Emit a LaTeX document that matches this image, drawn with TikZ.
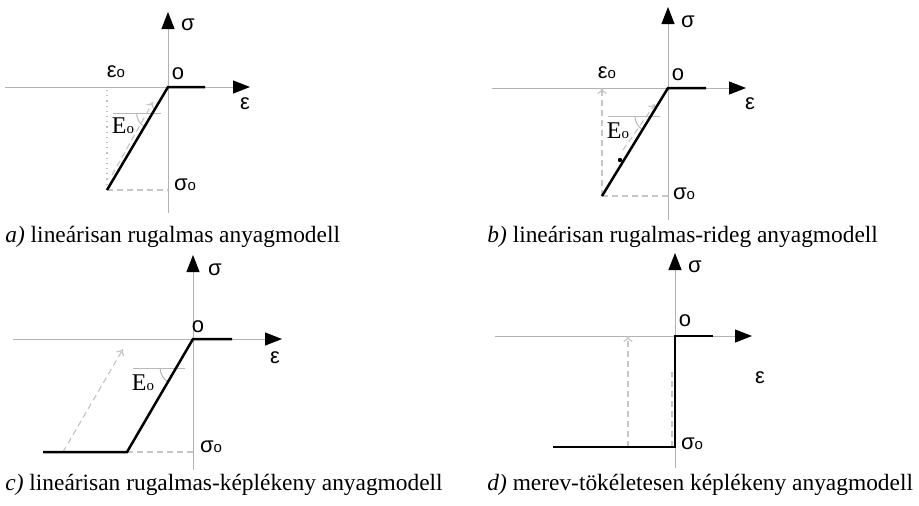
\documentclass[tikz,border=0pt]{standalone}
\usepackage{fontspec}
\setmainfont{Liberation Serif}
\newfontfamily\greekfont{Liberation Sans}
\usetikzlibrary{arrows.meta, positioning}
\newcommand{\idxo}{{\fontsize{7.5}{8}\selectfont o}}

\begin{document}
\begin{tikzpicture}[x=0.5pt, y=-0.5pt,
  axis/.style={draw=gray!60, line width=0.5pt, -{Triangle[length=8.5pt, width=6.5pt, color=black]}},
  curve/.style={line width=1.25pt, line join=miter},
  helper/.style={draw=gray!45, line width=0.6pt, dash pattern=on 3pt off 2pt},
  helperarrow/.style={helper, -{To[length=3pt, width=4.5pt]}},
  tangent/.style={draw=gray!55, line width=0.5pt},
  lab/.style={font=\greekfont\fontsize{11}{13}\selectfont, inner sep=0pt},
  elab/.style={font=\fontsize{12}{14}\selectfont, inner sep=0pt},
  caption/.style={font=\fontsize{11.7}{14}\selectfont, anchor=base west, inner sep=0pt}]
  \useasboundingbox (0,0) rectangle (919,505);

  % a) linear elastic
  \coordinate (aO) at (168,87);
  \coordinate (aW) at (5,87);
  \coordinate (aE) at (250,87);
  \coordinate (aS) at (168,213);
  \coordinate (aN) at (168,12);
  \coordinate (aY) at (205,87);
  \coordinate (aB) at (107,190);
  \coordinate (aBs) at (168,190);
  \coordinate (aBe) at (107,90);
  \coordinate (aT1) at (113,113);
  \coordinate (aT2) at (161,113);
  \coordinate (aK) at (152.6,113);
  \coordinate (aU1) at (112,175);
  \coordinate (aU2) at (153,102);
  \draw[axis] (aW) -- (aE);
  \draw[axis] (aS) -- (aN);
  \draw[helper] (aB) -- (aBs);
  \draw[gray!50, line width=0.6pt, dotted] (aB) -- (aBe);
  \draw[tangent] (aT1) -- (aT2);
  \draw[tangent] (aK) ++(-16,0) arc[start angle=180, end angle=120.6, radius=16];
  \draw[helperarrow] (aU1) -- (aU2);
  \draw[curve] (aY) -- (aO) -- (aB);
  \node[lab] (aSig) at (188,25) {σ};
  \node[lab] (aEps) at (245,104) {ε};
  \node[lab] (aZero) at (178,74) {o};
  \node[lab] (aEps0) at (116,72) {ε\idxo};
  \node[elab] (aE0) at (123,126) {E\idxo};
  \node[lab] (aSig0) at (185,185) {σ\idxo};
  \node[caption] (aCap) at (5,242) {\textit{a)} lineárisan rugalmas anyagmodell};

  % b) linear elastic - brittle
  \coordinate (bO) at (668,88);
  \coordinate (bW) at (492,88);
  \coordinate (bE) at (746,88);
  \coordinate (bS) at (668,220);
  \coordinate (bN) at (668,7);
  \coordinate (bY) at (706,88);
  \coordinate (bB) at (602,196);
  \coordinate (bBs) at (668,196);
  \coordinate (bBe) at (602,88);
  \coordinate (bT1) at (608,116);
  \coordinate (bT2) at (660,116);
  \coordinate (bK) at (650.9,116);
  \coordinate (bU1) at (623,150);
  \coordinate (bU2) at (655,104);
  \draw[axis] (bW) -- (bE);
  \draw[axis] (bS) -- (bN);
  \draw[helper] (bB) -- (bBs);
  \draw[helperarrow] (bB) -- (bBe);
  \draw[tangent] (bT1) -- (bT2);
  \draw[tangent] (bK) ++(-16,0) arc[start angle=180, end angle=121.4, radius=16];
  \draw[helperarrow] (bU1) -- (bU2);
  \draw[curve] (bY) -- (bO) -- (bB);
  \node[circle, fill, inner sep=0pt, minimum size=2.2pt] (bDot) at (620,160) {};
  \node[lab] (bSig) at (688,22) {σ};
  \node[lab] (bEps) at (750,104) {ε};
  \node[lab] (bZero) at (678,75) {o};
  \node[lab] (bEps0) at (607,73) {ε\idxo};
  \node[elab] (bE0) at (618,131) {E\idxo};
  \node[lab] (bSig0) at (684,194) {σ\idxo};
  \node[caption] (bCap) at (487,242) {\textit{b)} lineárisan rugalmas-rideg anyagmodell};

  % c) linear elastic - plastic
  \coordinate (cO) at (193,339);
  \coordinate (cW) at (13,339);
  \coordinate (cE) at (282,339);
  \coordinate (cS) at (193,470);
  \coordinate (cN) at (193,255);
  \coordinate (cY) at (232,339);
  \coordinate (cB) at (127,452);
  \coordinate (cL) at (43,452);
  \coordinate (cBs) at (193,452);
  \coordinate (cT1) at (133,368);
  \coordinate (cT2) at (185,368);
  \coordinate (cK) at (176.1,368);
  \coordinate (cU1) at (63,452);
  \coordinate (cU2) at (123,349);
  \draw[axis] (cW) -- (cE);
  \draw[axis] (cS) -- (cN);
  \draw[helper] (cB) -- (cBs);
  \draw[tangent] (cT1) -- (cT2);
  \draw[tangent] (cK) ++(-16,0) arc[start angle=180, end angle=120.3, radius=16];
  \draw[helperarrow] (cU1) -- (cU2);
  \draw[curve] (cY) -- (cO) -- (cB) -- (cL);
  \node[lab] (cSig) at (215,270) {σ};
  \node[lab] (cEps) at (275,358) {ε};
  \node[lab] (cZero) at (198,327) {o};
  \node[elab] (cE0) at (143,383) {E\idxo};
  \node[lab] (cSig0) at (211,447) {σ\idxo};
  \node[caption] (cCap) at (5,490) {\textit{c)} lineárisan rugalmas-képlékeny anyagmodell};

  % d) rigid - perfectly plastic
  \coordinate (dO) at (675,336);
  \coordinate (dW) at (495,336);
  \coordinate (dE) at (752,336);
  \coordinate (dS) at (675,468);
  \coordinate (dN) at (675,253);
  \coordinate (dY) at (713,336);
  \coordinate (dB) at (675,447);
  \coordinate (dL) at (553,447);
  \coordinate (dU1) at (628,447);
  \coordinate (dU2) at (628,336);
  \coordinate (dV1) at (672,447);
  \coordinate (dV2) at (672,372);
  \draw[axis] (dW) -- (dE);
  \draw[axis] (dS) -- (dN);
  \draw[helperarrow] (dU1) -- (dU2);
  \draw[helper] (dV1) -- (dV2);
  \draw[curve] (dY) -- (dO) -- (dB) -- (dL);
  \node[lab] (dSig) at (695,267) {σ};
  \node[lab] (dEps) at (760,378) {ε};
  \node[lab] (dZero) at (685,321) {o};
  \node[lab] (dSig0) at (692,444) {σ\idxo};
  \node[caption] (dCap) at (487,490) {\textit{d)} merev-tökéletesen képlékeny anyagmodell};
\end{tikzpicture}
\end{document}
